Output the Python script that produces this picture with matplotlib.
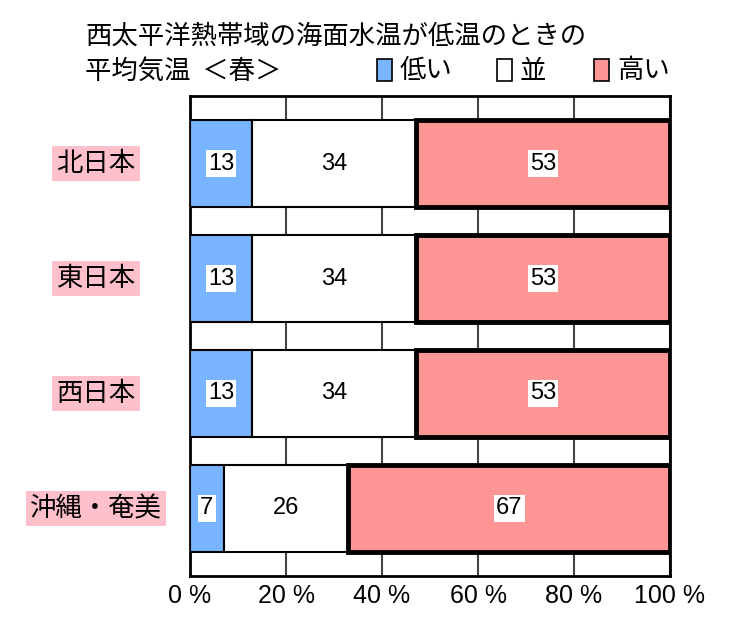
import matplotlib.pyplot as plt
from matplotlib.patches import Rectangle
from matplotlib import transforms

plt.rcParams['font.family'] = ['Noto Sans CJK JP', 'DejaVu Sans']
num_font = ['Liberation Sans', 'DejaVu Sans']

regions = ['北日本', '東日本', '西日本', '沖縄・奄美']
low = [13, 13, 13, 7]
normal = [34, 34, 34, 26]
high = [53, 53, 53, 67]
ticks = [0, 20, 40, 60, 80, 100]
tick_labels = ['0 %', '20 %', '40 %', '60 %', '80 %', '100 %']

c_low = '#78b4ff'
c_norm = '#ffffff'
c_high = '#ff9696'

W, H = 750, 640
fig = plt.figure(figsize=(7.5, 6.4), dpi=100)
ax = fig.add_axes([190 / W, 1 - 576 / H, 480 / W, 480 / H])

y = list(range(len(regions)))
h = 0.757
for i in y:
    segs = [(low[i], c_low), (normal[i], c_norm), (high[i], c_high)]
    vals = [low[i], normal[i], high[i]]
    kmax = vals.index(max(vals))
    left = 0
    for k, (v, c) in enumerate(segs):
        thick = (k == kmax)
        ax.barh(i, v, left=left, height=h, color=c, edgecolor='black',
                linewidth=3.5 if thick else 1.5, zorder=4 if thick else 3)
        txt = ax.text(left + v / 2, i, str(v), ha='center', va='center',
                      fontsize=17, family=num_font, zorder=6)
        if k != 1:
            txt.set_bbox(dict(facecolor='white', edgecolor='none', pad=1.5))
        left += v

ax.set_xlim(0, 100)
ax.set_ylim(len(regions) - 1 + 0.587, -0.587)
ax.set_xticks(ticks)
ax.set_xticklabels(tick_labels, fontsize=18, family=num_font)
ax.set_yticks([])
ax.tick_params(axis='both', length=0)
ax.tick_params(axis='x', pad=6)
ax.grid(axis='x', color='#444444', linewidth=1.5, zorder=0)
ax.set_axisbelow(True)
for s in ax.spines.values():
    s.set_linewidth(2)
    s.set_color('black')

# category labels centred in the left margin
trans = transforms.blended_transform_factory(fig.transFigure, ax.transData)
for i, r in enumerate(regions):
    ax.text(96 / W, i, r, transform=trans, ha='center', va='center', fontsize=19,
            bbox=dict(facecolor='#ffc0cb', edgecolor='none', pad=3))

fig.text(85 / W, 1 - 36 / H, '西太平洋熱帯域の海面水温が低温のときの',
         fontsize=19, va='center', ha='left')
fig.text(85 / W, 1 - 71 / H, '平均気温  ＜春＞', fontsize=19, va='center', ha='left')

legend_items = [(377, c_low, '低い'), (497, c_norm, '並'), (594, c_high, '高い')]
for x0, c, lab in legend_items:
    fig.add_artist(Rectangle((x0 / W, 1 - 81 / H), 15 / W, 22 / H, transform=fig.transFigure,
                             facecolor=c, edgecolor='black', linewidth=1.2))
    fig.text((x0 + 23) / W, 1 - 71 / H, lab, fontsize=19, va='center', ha='left')

fig.savefig('out.png', dpi=100)
